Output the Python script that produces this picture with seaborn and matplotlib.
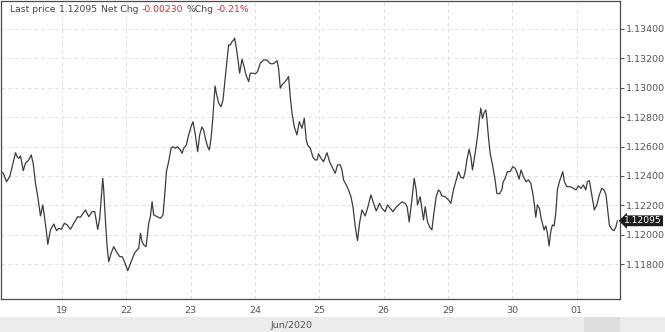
import numpy as np
import pandas as pd
import matplotlib
matplotlib.use("Agg")
import matplotlib.pyplot as plt
import seaborn as sns
from matplotlib.patches import Rectangle

# ---- data: EUR/USD-like intraday price, x = trading-day position (tick k = k-th session date)
day_labels = ['19', '22', '23', '24', '25', '26', '29', '30', '01']
month_label = 'Jun/2020'
last_price = 1.12095
net_chg = '-0.00230'
pct_chg = '-0.21%'

t_a = [-0.955,-0.913,-0.862,-0.811,-0.773,-0.722,-0.696,-0.671,-0.644,-0.602,-0.567,-0.516,-0.478,-0.447,-0.411,-0.376,-0.334,-0.298,-0.272,-0.245,-0.220,-0.179,-0.127,-0.085,-0.050,-0.012,0.039,0.081,0.132,0.183,0.245,0.287,0.365,0.416,0.469,0.509,0.556,0.587]
p_a = [1.12429,1.12420,1.12361,1.12395,1.12463,1.12558,1.12531,1.12520,1.12536,1.12436,1.12486,1.12509,1.12543,1.12486,1.12350,1.12259,1.12128,1.12203,1.12123,1.12033,1.11935,1.12033,1.12073,1.12028,1.12044,1.12037,1.12078,1.12067,1.12037,1.12078,1.12123,1.12119,1.12169,1.12123,1.12157,1.12157,1.12037,1.12112]

t_b = [0.634,0.649,0.675,0.702,0.727,0.764,0.804,0.846,0.898,0.935,0.971,1.022,1.075,1.126,1.168,1.193,1.219,1.245,1.270,1.307,1.348,1.374,1.401,1.425,1.478,1.530,1.571,1.607,1.623,1.658,1.696,1.727,1.762,1.798,1.840,1.866,1.891,1.933,1.969,2.006,2.037,2.073,2.109,2.140]
p_b = [1.12384,1.12305,1.12101,1.11919,1.11817,1.11874,1.11919,1.11885,1.11851,1.11851,1.11817,1.11756,1.11817,1.11874,1.11897,1.11908,1.12010,1.11953,1.11931,1.11919,1.12078,1.12123,1.12225,1.12135,1.12123,1.12112,1.12135,1.12327,1.12429,1.12497,1.12588,1.12599,1.12588,1.12599,1.12577,1.12554,1.12588,1.12611,1.12679,1.12735,1.12769,1.12679,1.12565,1.12679]

t_c = [2.174,2.202,2.228,2.264,2.290,2.317,2.342,2.357,2.379,2.399,2.435,2.472,2.503,2.539,2.565,2.590,2.617,2.643,2.668,2.683,2.710,2.736,2.761,2.798,2.823,2.860,2.901,2.927,2.969,3.005,3.040,3.082,3.134,3.186,3.227,3.264,3.300,3.342,3.366,3.393,3.419,3.455,3.497,3.522,3.548,3.575,3.610,3.652,3.688]
p_c = [1.12733,1.12713,1.12656,1.12599,1.12577,1.12656,1.12781,1.12871,1.13012,1.12963,1.12895,1.12871,1.12917,1.13076,1.13189,1.13291,1.13291,1.13314,1.13325,1.13337,1.13269,1.13189,1.13099,1.13194,1.13155,1.13087,1.13042,1.13099,1.13099,1.13094,1.13110,1.13167,1.13189,1.13189,1.13167,1.13162,1.13167,1.13184,1.13133,1.12997,1.13019,1.13035,1.13058,1.13076,1.12939,1.12827,1.12735,1.12679,1.12769]

t_d = [3.730,3.766,3.797,3.817,3.859,3.901,3.936,3.963,3.988,4.025,4.065,4.118,4.158,4.196,4.247,4.283,4.325,4.351,4.376,4.418,4.453,4.491,4.522,4.558,4.593,4.624,4.662,4.713,4.755,4.801,4.842,4.884,4.935,4.972,5.023,5.059,5.101,5.143,5.179,5.230]
p_d = [1.12724,1.12792,1.12645,1.12611,1.12588,1.12527,1.12509,1.12509,1.12550,1.12520,1.12497,1.12558,1.12497,1.12463,1.12418,1.12475,1.12475,1.12441,1.12373,1.12339,1.12305,1.12259,1.12191,1.12055,1.11960,1.12078,1.12169,1.12128,1.12191,1.12271,1.12214,1.12162,1.12214,1.12180,1.12157,1.12203,1.12180,1.12157,1.12180,1.12203]

t_e = [5.283,5.334,5.365,5.396,5.438,5.474,5.505,5.525,5.567,5.593,5.618,5.645,5.680,5.711,5.749,5.773,5.815,5.851,5.877,5.904,5.955,6.006,6.044,6.084,6.126,6.162,6.199,6.239,6.266,6.292,6.328,6.354,6.379,6.405,6.436,6.463,6.488,6.509,6.534,6.561,6.587,6.603,6.627,6.654,6.696,6.731,6.758,6.798]
p_e = [1.12223,1.12214,1.12189,1.12087,1.12237,1.12384,1.12305,1.12203,1.12259,1.12180,1.12101,1.12191,1.12089,1.12055,1.12033,1.12123,1.12259,1.12305,1.12293,1.12264,1.12259,1.12237,1.12214,1.12305,1.12373,1.12429,1.12391,1.12384,1.12429,1.12509,1.12582,1.12531,1.12441,1.12509,1.12599,1.12690,1.12792,1.12861,1.12792,1.12831,1.12849,1.12792,1.12667,1.12554,1.12463,1.12373,1.12282,1.12278]

t_f = [6.836,6.856,6.887,6.922,6.965,7.006,7.042,7.068,7.104,7.135,7.171,7.213,7.249,7.286,7.317,7.342,7.363,7.388,7.420,7.446,7.472,7.492,7.519,7.544,7.570,7.596,7.621,7.648,7.674,7.699,7.730,7.756,7.783,7.808,7.845,7.896,7.947,7.989,8.025,8.067,8.103,8.140,8.165,8.196,8.233,8.273,8.311,8.351,8.388,8.424,8.455,8.475,8.506,8.544,8.579,8.610,8.631]
p_f = [1.12305,1.12359,1.12384,1.12429,1.12429,1.12463,1.12452,1.12429,1.12378,1.12441,1.12395,1.12361,1.12373,1.12350,1.12282,1.12203,1.12119,1.12203,1.12180,1.12112,1.12067,1.12033,1.12060,1.12010,1.11924,1.12021,1.12067,1.12060,1.12146,1.12305,1.12361,1.12395,1.12429,1.12361,1.12327,1.12327,1.12316,1.12305,1.12332,1.12316,1.12339,1.12305,1.12361,1.12368,1.12271,1.12169,1.12203,1.12271,1.12316,1.12305,1.12271,1.12191,1.12067,1.12037,1.12028,1.12055,1.12095]

y_ticks = [1.118, 1.120, 1.122, 1.124, 1.126, 1.128, 1.130, 1.132, 1.134]

t_all = t_a + t_b + t_c + t_d + t_e + t_f
p_all = p_a + p_b + p_c + p_d + p_e + p_f
assert len(t_all) == len(p_all), (len(t_all), len(p_all))
df = pd.DataFrame({"pos": t_all, "price": p_all})

# ---- figure
W, H = 665, 332
sns.set_style("white")
plt.rcParams['font.family'] = ['DejaVu Sans']
fig = plt.figure(figsize=(W / 100, H / 100), dpi=100)
fig.patch.set_facecolor("white")

ax_left, ax_right, ax_top, ax_bot = 0.5, 620, 1, 299
ax = fig.add_axes([ax_left / W, 1 - ax_bot / H, (ax_right - ax_left) / W, (ax_bot - ax_top) / H])

sns.lineplot(data=df, x="pos", y="price", ax=ax, color="#3c3c3c", linewidth=0.9,
             estimator=None, sort=False)

ax.set_xlim(-0.955, 8.672)
ax.set_ylim(1.11563, 1.13590)

ax.set_xticks(range(len(day_labels)))
ax.set_xticklabels(day_labels)
ax.set_yticks(y_ticks)
ax.set_yticklabels([f"{v:.5f}" for v in y_ticks])
ax.yaxis.tick_right()
ax.set_xlabel("")
ax.set_ylabel("")

ax.tick_params(axis="y", which="both", right=True, left=False, length=3, width=0.7,
               color="#555555", labelsize=6.8, labelcolor="#555555", pad=1)
ax.tick_params(axis="x", which="both", bottom=True, length=0, labelsize=6.8,
               labelcolor="#555555", pad=5)

ax.grid(True, color="#d9d9d9", linestyle=(0, (4, 4)), linewidth=0.6)
for s in ax.spines.values():
    s.set_visible(True)
    s.set_color("#4a4a4a")
    s.set_linewidth(0.9)

# last-price marker on the right axis
ax.annotate(f"{last_price:.5f}", xy=(1, last_price), xycoords=("axes fraction", "data"),
            xytext=(3.2, 0), textcoords="offset points", ha="left", va="center",
            fontsize=6.6, color="white",
            bbox=dict(boxstyle="larrow,pad=0.1", fc="#1c1c1c", ec="none"))

# bottom band with month label
fig.patches.append(Rectangle((0, 0), 1, 15 / H, transform=fig.transFigure,
                             facecolor="#ececec", edgecolor="none", zorder=0))
fig.patches.append(Rectangle((584 / W, 0), 36 / W, 15 / H, transform=fig.transFigure,
                             facecolor="#dedede", edgecolor="none", zorder=0))
fig.text(292 / W, 1 - 325 / H, month_label, ha="center", va="center",
         fontsize=6.8, color="#555555")

# header: Last price ... Net Chg ... %Chg ...
renderer = fig.canvas.get_renderer()
parts = [("Last price", "#444444"), (f"{last_price:.5f}", "#444444"), ("Net Chg", "#444444"),
         (net_chg, "#e8262b"), ("%Chg", "#444444"), (pct_chg, "#e8262b")]
xpix = 10
for txt, col in parts:
    tt = fig.text(xpix / W, 1 - 9 / H, txt, color=col, fontsize=6.7, ha="left", va="center")
    bb = tt.get_window_extent(renderer)
    xpix = bb.x1 + 3.5

fig.savefig("out.png", dpi=100)
